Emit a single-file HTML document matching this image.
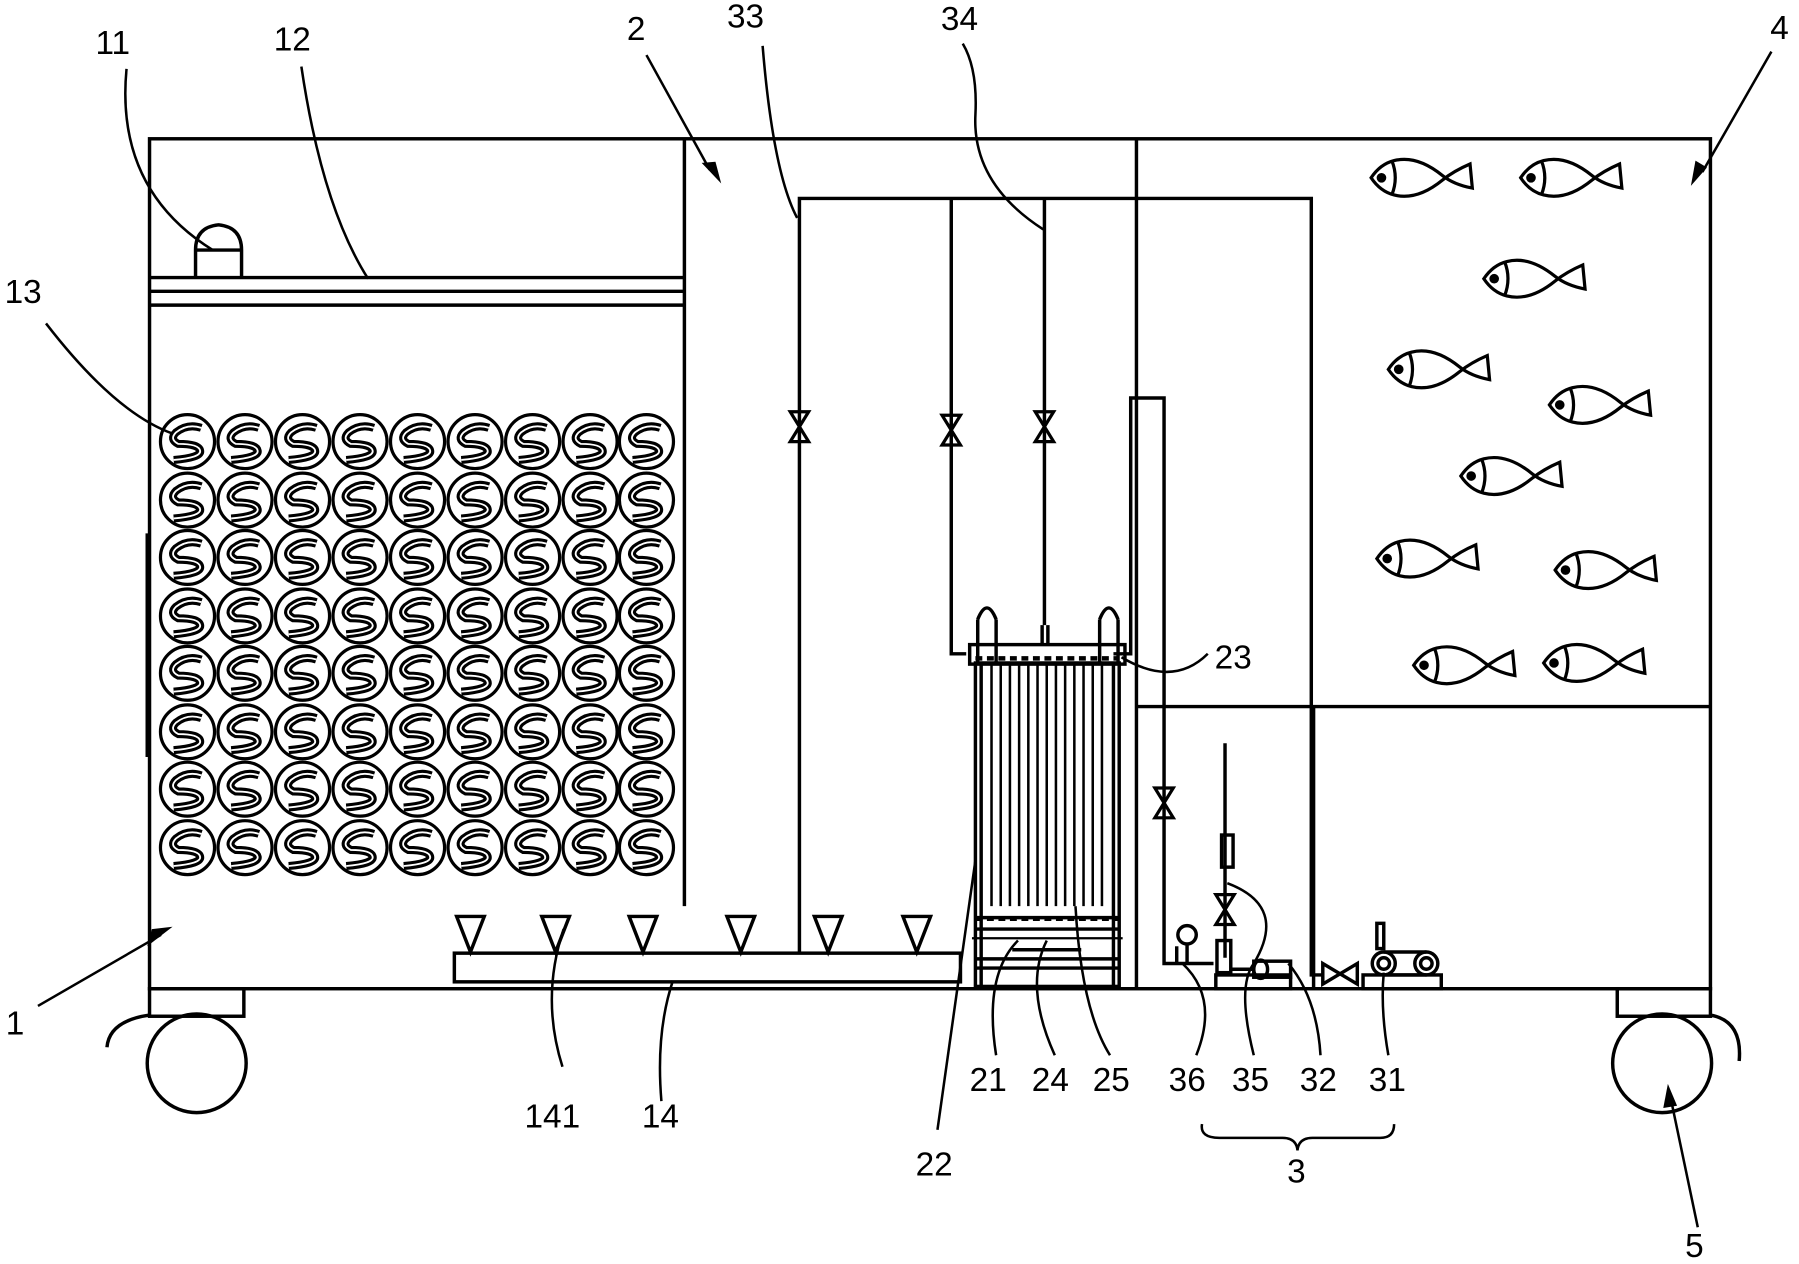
<!DOCTYPE html>
<html><head><meta charset="utf-8"><style>html,body{margin:0;padding:0;background:#fff}svg{display:block}text{font-family:"Liberation Sans Narrow","Liberation Sans",sans-serif;font-size:29px;fill:#000}</style></head><body>
<svg width="1799" height="1264" viewBox="0 0 1564 1102" preserveAspectRatio="none" xmlns="http://www.w3.org/2000/svg">
<defs>
<g id="fish" fill="none" stroke="#000" stroke-width="2.8">
<path d="M0,0 Q8,-12 20,-15 Q40,-20 62,-2 Q72,6 88,9 L86,-12 Q72,-6 62,2 Q40,20 20,15 Q8,12 0,0 Z"/>
<path d="M18,-15 Q24,0 18,15"/>
<circle cx="9" cy="0" r="2.8" fill="#000"/>
</g>
<g id="ss" fill="none" stroke="#000">
<circle r="23.5" stroke-width="2.8"/>
<path d="M12,-12 Q0,-16 -10,-8 Q-16,-2 -8,2 Q10,2 11,8 Q12,14 -12,16" stroke-width="7"/>
<path d="M12,-12 Q0,-16 -10,-8 Q-16,-2 -8,2 Q10,2 11,8 Q12,14 -12,16" stroke="#fff" stroke-width="1.6"/>
</g>
<g id="valve" fill="none" stroke="#000" stroke-width="2.8"><path d="M-8,-13 L8,-13 L-8,13 L8,13 Z"/></g>
</defs>
<g fill="none" stroke="#000" stroke-width="3">
<rect x="130" y="121" width="1357" height="741"/>
<line x1="595" y1="121" x2="595" y2="790"/>
<line x1="988" y1="121" x2="988" y2="862"/>
<line x1="988" y1="616" x2="1487" y2="616"/>
<line x1="1142" y1="616" x2="1142" y2="862"/>
<line x1="130" y1="242" x2="595" y2="242"/>
<line x1="130" y1="254" x2="595" y2="254"/>
<line x1="130" y1="266" x2="595" y2="266"/>
<line x1="128" y1="465" x2="128" y2="660" stroke-width="3"/>
<path d="M170,241 L170,218 M210,241 L210,218 M170,218 L210,218 M170,218 Q170,198 190,196 Q210,198 210,218"/>
<rect x="130" y="862" width="82" height="24"/>
<circle cx="171" cy="927" r="43"/>
<path d="M130,885 Q95,890 93,913"/>
<rect x="1406" y="862" width="81" height="24"/>
<circle cx="1445" cy="927" r="43"/>
<path d="M1487,885 Q1515,890 1512,925"/>
<rect x="395" y="831" width="440" height="25"/>
<g>
<path d="M397,799 L421,799 L409,830 Z"/><path d="M471,799 L495,799 L483,830 Z"/><path d="M547,799 L571,799 L559,830 Z"/>
<path d="M632,799 L656,799 L644,830 Z"/><path d="M708,799 L732,799 L720,830 Z"/><path d="M785,799 L809,799 L797,830 Z"/>
</g>
<polyline points="695,830 695,173 1140,173 1140,850 1150,850"/>
<polyline points="827,173 827,570 840,570"/>
<line x1="908" y1="173" x2="908" y2="545"/>
<polyline points="968,570 983,570 983,347 1012,347 1012,840 1055,840"/>
<line x1="1065" y1="648" x2="1065" y2="835"/>
<rect x="843" y="562" width="135" height="17"/>
<rect x="848" y="578" width="125" height="282"/>
<line x1="853" y1="578" x2="853" y2="860"/><line x1="968" y1="578" x2="968" y2="860"/>
<line x1="848" y1="800" x2="973" y2="800"/><line x1="848" y1="810" x2="973" y2="810"/>
<line x1="848" y1="836" x2="973" y2="836"/><line x1="848" y1="844" x2="973" y2="844"/>
<line x1="845" y1="818" x2="976" y2="818" stroke-width="2"/>
<path d="M848,574 L973,574" stroke-dasharray="6,4" stroke-width="4"/>
<path d="M848,801 L973,801" stroke-dasharray="6,4" stroke-width="4"/>
<path d="M850,540 L850,580 M866,540 L866,580 M850,540 Q858,520 866,540"/>
<path d="M956,540 L956,580 M972,540 L972,580 M956,540 Q964,520 972,540"/>
<line x1="906" y1="545" x2="906" y2="562"/><line x1="911" y1="545" x2="911" y2="562"/>
<g stroke-width="2.2">
<line x1="862" y1="580" x2="862" y2="790"/><line x1="870" y1="580" x2="870" y2="790"/><line x1="878" y1="580" x2="878" y2="790"/><line x1="886" y1="580" x2="886" y2="790"/><line x1="894" y1="580" x2="894" y2="790"/><line x1="902" y1="580" x2="902" y2="790"/><line x1="910" y1="580" x2="910" y2="790"/><line x1="918" y1="580" x2="918" y2="790"/><line x1="926" y1="580" x2="926" y2="790"/><line x1="934" y1="580" x2="934" y2="790"/><line x1="942" y1="580" x2="942" y2="790"/><line x1="950" y1="580" x2="950" y2="790"/><line x1="958" y1="580" x2="958" y2="790"/>
</g>
<line x1="880" y1="828" x2="940" y2="828" stroke-width="3"/>
<rect x="1062" y="728" width="10" height="28"/>
<line x1="1023" y1="840" x2="1023" y2="825"/>
<circle cx="1032" cy="815" r="8"/>
<line x1="1032" y1="823" x2="1032" y2="840"/>
<rect x="1058" y="820" width="12" height="28"/>
<rect x="1057" y="850" width="65" height="12"/>
<rect x="1090" y="838" width="32" height="14"/>
<ellipse cx="1096" cy="845" rx="6" ry="8"/>
<line x1="1070" y1="845" x2="1090" y2="845"/>
<path d="M1150,840 L1150,858 L1180,840 L1180,858 Z"/>
<rect x="1185" y="850" width="68" height="12"/>
<circle cx="1203" cy="840" r="10"/><circle cx="1240" cy="840" r="10"/>
<circle cx="1203" cy="840" r="5"/><circle cx="1240" cy="840" r="5"/>
<line x1="1203" y1="830" x2="1240" y2="830"/><line x1="1203" y1="850" x2="1240" y2="850"/>
<rect x="1197" y="805" width="6" height="22"/>
<g stroke-width="2.2">
<path d="M110,60 Q100,165 185,218"/>
<path d="M262,58 Q280,180 320,243"/>
<path d="M40,282 Q100,360 150,378"/>
<path d="M663,40 Q672,150 693,190"/>
<path d="M837,38 Q850,60 848,100 Q845,160 907,200"/>
<path d="M975,573 Q1020,600 1050,570"/>
<path d="M489,930 Q470,870 490,810"/>
<path d="M575,960 Q570,900 585,855"/>
<path d="M815,985 Q830,880 848,750"/>
<path d="M866,920 Q855,850 885,820"/>
<path d="M917,920 Q890,860 910,820"/>
<path d="M965,920 Q940,880 935,790"/>
<path d="M1040,920 Q1060,870 1028,840"/>
<path d="M1090,920 Q1075,860 1090,840 Q1120,790 1067,770"/>
<path d="M1148,920 Q1145,870 1120,840"/>
<path d="M1207,920 Q1200,880 1203,848"/>
<path d="M1045,980 Q1043,992 1060,992 L1115,992 Q1127,992 1128,1003 Q1129,992 1141,992 L1200,992 Q1212,992 1212,980"/>
<line x1="33" y1="877" x2="140" y2="815"/>
<line x1="562" y1="48" x2="617" y2="148"/>
<line x1="1540" y1="45" x2="1480" y2="150"/>
<line x1="1476" y1="1070" x2="1453" y2="960"/>
</g>
</g>
<g fill="#000">
<path d="M150,808 L128,825 L132,810 Z"/>
<path d="M627,160 L610,142 L622,141 Z"/>
<path d="M1470,162 L1474,140 L1484,146 Z"/>
<path d="M1450,945 L1446,966 L1458,964 Z"/>
</g>
<use href="#valve" x="695" y="372"/><use href="#valve" x="827" y="375"/><use href="#valve" x="908" y="372"/>
<use href="#valve" x="1012" y="700"/><use href="#valve" x="1065" y="793"/>
<g>
<use href="#ss" x="163" y="385"/><use href="#ss" x="213" y="385"/><use href="#ss" x="263" y="385"/><use href="#ss" x="313" y="385"/><use href="#ss" x="363" y="385"/><use href="#ss" x="413" y="385"/><use href="#ss" x="463" y="385"/><use href="#ss" x="513" y="385"/><use href="#ss" x="562" y="385"/>
<use href="#ss" x="163" y="436"/><use href="#ss" x="213" y="436"/><use href="#ss" x="263" y="436"/><use href="#ss" x="313" y="436"/><use href="#ss" x="363" y="436"/><use href="#ss" x="413" y="436"/><use href="#ss" x="463" y="436"/><use href="#ss" x="513" y="436"/><use href="#ss" x="562" y="436"/>
<use href="#ss" x="163" y="486"/><use href="#ss" x="213" y="486"/><use href="#ss" x="263" y="486"/><use href="#ss" x="313" y="486"/><use href="#ss" x="363" y="486"/><use href="#ss" x="413" y="486"/><use href="#ss" x="463" y="486"/><use href="#ss" x="513" y="486"/><use href="#ss" x="562" y="486"/>
<use href="#ss" x="163" y="537"/><use href="#ss" x="213" y="537"/><use href="#ss" x="263" y="537"/><use href="#ss" x="313" y="537"/><use href="#ss" x="363" y="537"/><use href="#ss" x="413" y="537"/><use href="#ss" x="463" y="537"/><use href="#ss" x="513" y="537"/><use href="#ss" x="562" y="537"/>
<use href="#ss" x="163" y="587"/><use href="#ss" x="213" y="587"/><use href="#ss" x="263" y="587"/><use href="#ss" x="313" y="587"/><use href="#ss" x="363" y="587"/><use href="#ss" x="413" y="587"/><use href="#ss" x="463" y="587"/><use href="#ss" x="513" y="587"/><use href="#ss" x="562" y="587"/>
<use href="#ss" x="163" y="638"/><use href="#ss" x="213" y="638"/><use href="#ss" x="263" y="638"/><use href="#ss" x="313" y="638"/><use href="#ss" x="363" y="638"/><use href="#ss" x="413" y="638"/><use href="#ss" x="463" y="638"/><use href="#ss" x="513" y="638"/><use href="#ss" x="562" y="638"/>
<use href="#ss" x="163" y="688"/><use href="#ss" x="213" y="688"/><use href="#ss" x="263" y="688"/><use href="#ss" x="313" y="688"/><use href="#ss" x="363" y="688"/><use href="#ss" x="413" y="688"/><use href="#ss" x="463" y="688"/><use href="#ss" x="513" y="688"/><use href="#ss" x="562" y="688"/>
<use href="#ss" x="163" y="739"/><use href="#ss" x="213" y="739"/><use href="#ss" x="263" y="739"/><use href="#ss" x="313" y="739"/><use href="#ss" x="363" y="739"/><use href="#ss" x="413" y="739"/><use href="#ss" x="463" y="739"/><use href="#ss" x="513" y="739"/><use href="#ss" x="562" y="739"/>
</g>
<use href="#fish" x="1192" y="155"/><use href="#fish" x="1322" y="155"/><use href="#fish" x="1290" y="243"/>
<use href="#fish" x="1207" y="322"/><use href="#fish" x="1347" y="353"/><use href="#fish" x="1270" y="415"/>
<use href="#fish" x="1197" y="487"/><use href="#fish" x="1352" y="497"/><use href="#fish" x="1229" y="580"/><use href="#fish" x="1342" y="578"/>
<text x="83" y="47">11</text><text x="238" y="44">12</text><text x="4" y="264">13</text>
<text x="545" y="35">2</text><text x="632" y="24">33</text><text x="818" y="26">34</text>
<text x="1539" y="34">4</text><text x="1056" y="583">23</text>
<text x="5" y="902">1</text><text x="456" y="983">141</text><text x="558" y="983">14</text>
<text x="796" y="1025">22</text>
<text x="843" y="951">21</text><text x="897" y="951">24</text><text x="950" y="951">25</text>
<text x="1016" y="951">36</text><text x="1071" y="951">35</text><text x="1130" y="951">32</text><text x="1190" y="951">31</text>
<text x="1119" y="1031">3</text><text x="1465" y="1096">5</text>
</svg>
</body></html>
